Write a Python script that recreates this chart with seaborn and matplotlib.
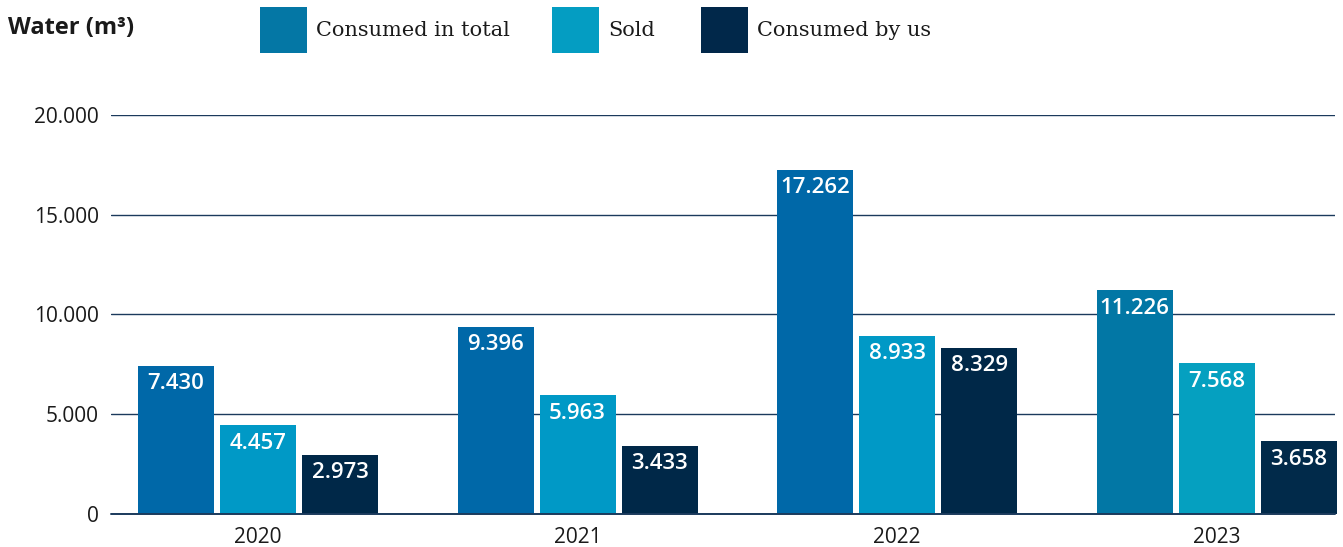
import matplotlib
matplotlib.use("Agg")
import matplotlib.pyplot as plt
from matplotlib.patches import Rectangle
import seaborn as sns
import pandas as pd

years = ["2020", "2021", "2022", "2023"]
series = ["Consumed in total", "Sold", "Consumed by us"]
consumed_total = [7430, 9396, 17262, 11226]
sold = [4457, 5963, 8933, 7568]
consumed_by_us = [2973, 3433, 8329, 3658]
y_ticks = [0, 5000, 10000, 15000, 20000]

legend_colors = ["#0477A5", "#049DC2", "#01284A"]
# bar colours per series, per year
bar_colors = {
    "Consumed in total": ["#0068A8", "#0068A8", "#0068A8", "#0277A5"],
    "Sold": ["#0099C6", "#0099C6", "#0099C6", "#05A0C0"],
    "Consumed by us": ["#002848", "#002848", "#002848", "#012A4A"],
}

df = pd.DataFrame({
    "year": years * 3,
    "series": [s for s in series for _ in years],
    "value": consumed_total + sold + consumed_by_us,
})

def fmt(v):
    return f"{v:,.0f}".replace(",", ".")

sns.set_theme(style="white")
plt.rcParams["font.family"] = ["Open Sans", "DejaVu Sans"]

fig = plt.figure(figsize=(13.43, 5.47), dpi=100)
ax = fig.add_axes([0.0827, 0.0603, 0.9113, 0.7295])

sns.barplot(data=df, x="year", y="value", hue="series", hue_order=series,
            palette=legend_colors, width=0.77, gap=0.075, legend=False,
            saturation=1, ax=ax, errorbar=None)

for i, s in enumerate(series):
    for j in range(len(years)):
        bar = ax.patches[i * len(years) + j]
        bar.set_facecolor(bar_colors[s][j])
        bar.set_edgecolor("none")
        bar.set_clip_on(False)
        h = bar.get_height()
        ax.annotate(fmt(h), (bar.get_x() + bar.get_width() / 2, h),
                    xytext=(0, -5.5), textcoords="offset points",
                    ha="center", va="top", color="white",
                    fontsize=16, fontweight="semibold")

ax.set_ylim(0, 20000)
ax.set_xlim(-0.46, 3.37)
ax.set_yticks(y_ticks)
ax.set_yticklabels([fmt(t) for t in y_ticks])
ax.yaxis.grid(True, color="#1B3A5C", linewidth=1.0)
ax.set_axisbelow(True)
ax.axhline(0, color="#1B3A5C", linewidth=1.4, clip_on=False, zorder=3)
for sp in ax.spines.values():
    sp.set_visible(False)
ax.tick_params(axis="both", length=0, labelsize=15, colors="#1a1a1a")
ax.tick_params(axis="y", pad=9)
ax.tick_params(axis="x", pad=9)
ax.set_xlabel("")
ax.set_ylabel("")

fig.text(8 / 1343, 1 - 28 / 547, "Water (m³)", ha="left", va="center",
         fontsize=17, fontweight="bold", color="#1a1a1a")

W, H = 1343, 547
legend_x = [260, 552, 701]
for x0, name, c in zip(legend_x, series, legend_colors):
    fig.add_artist(Rectangle((x0 / W, 1 - 53 / H), 47 / W, 46 / H,
                             transform=fig.transFigure, facecolor=c,
                             edgecolor="none"))
    fig.text((x0 + 56) / W, 1 - 31 / H, name, ha="left", va="center",
             fontsize=15, color="#1a1a1a", family=["DejaVu Serif"])

fig.savefig("out.png", dpi=100)
